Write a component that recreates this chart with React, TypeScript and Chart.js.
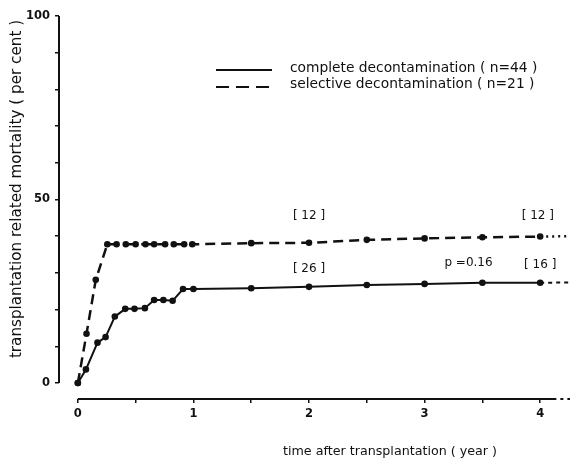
import React, { useEffect, useRef } from "react";
import { Chart, registerables } from "chart.js";

Chart.register(...registerables);

// ---- data (years, per cent) ----
const completeX = [0, 0.07, 0.17, 0.24, 0.32, 0.41, 0.49, 0.58, 0.66, 0.74, 0.82, 0.91, 1.0, 1.5, 2.0, 2.5, 3.0, 3.5, 4.0, 4.27];
const completeY = [0, 3.7, 11.0, 12.5, 18.1, 20.2, 20.2, 20.4, 22.6, 22.6, 22.4, 25.6, 25.6, 25.8, 26.2, 26.7, 27.0, 27.3, 27.3, 27.4];
const selectiveX = [0, 0.075, 0.155, 0.255, 0.335, 0.415, 0.5, 0.585, 0.66, 0.755, 0.83, 0.92, 0.99, 1.5, 2.0, 2.5, 3.0, 3.5, 4.0, 4.27];
const selectiveY = [0, 13.4, 28.1, 37.8, 37.8, 37.8, 37.8, 37.8, 37.8, 37.8, 37.8, 37.8, 37.8, 38.1, 38.2, 39.0, 39.4, 39.7, 39.9, 40.0];

const seriesNames = ["complete decontamination ( n=44 )", "selective decontamination ( n=21 )"];

const yTicks = [0, 10, 20, 30, 40, 50, 60, 70, 80, 90, 100];
const yLabelled = [0, 50, 100];
const xTicks = [0, 0.5, 1, 1.5, 2, 2.5, 3, 3.5, 4];
const xLabelled = [0, 1, 2, 3, 4];

const yTitle = "transplantation related mortality ( per cent )";
const xTitle = "time after transplantation ( year )";

const noteTexts = ["[ 12 ]", "[ 26 ]", "p =0.16", "[ 16 ]", "[ 12 ]"];
const noteX = [2.0, 2.0, 3.38, 4.0, 3.98];
const noteY = [45.5, 31.1, 32.7, 32.2, 45.5];

const INK = "#111111";
const FONT = "'DejaVu Sans', sans-serif";

const decor = {
  id: "decor",
  beforeDatasetsDraw(chart: any) {
    const { ctx, chartArea, scales } = chart;
    const x = scales.x;
    const y = scales.y;
    ctx.save();
    ctx.strokeStyle = INK;
    ctx.lineWidth = 2;
    ctx.lineCap = "butt";
    // y axis line from 0 to 100
    ctx.beginPath();
    ctx.moveTo(chartArea.left, y.getPixelForValue(100));
    ctx.lineTo(chartArea.left, y.getPixelForValue(0));
    ctx.stroke();
    // x axis line
    const yb = chartArea.bottom;
    const xEnd = x.getPixelForValue(4.14);
    ctx.beginPath();
    ctx.moveTo(x.getPixelForValue(0), yb);
    ctx.lineTo(xEnd, yb);
    ctx.stroke();
    ctx.setLineDash([3, 4]);
    ctx.beginPath();
    ctx.moveTo(xEnd + 4, yb);
    ctx.lineTo(chartArea.right, yb);
    ctx.stroke();
    ctx.restore();
  },
  afterDatasetsDraw(chart: any) {
    const { ctx, scales } = chart;
    const x = scales.x;
    const y = scales.y;
    ctx.save();
    ctx.fillStyle = INK;
    ctx.textBaseline = "middle";
    ctx.textAlign = "center";
    // annotations
    ctx.font = `12px ${FONT}`;
    noteTexts.forEach((t, i) => {
      ctx.fillText(t, x.getPixelForValue(noteX[i]), y.getPixelForValue(noteY[i]));
    });
    // legend
    ctx.strokeStyle = INK;
    ctx.lineWidth = 2;
    ctx.beginPath();
    ctx.moveTo(216, 70);
    ctx.lineTo(272, 70);
    ctx.stroke();
    ctx.setLineDash([13, 7]);
    ctx.beginPath();
    ctx.moveTo(216, 87);
    ctx.lineTo(272, 87);
    ctx.stroke();
    ctx.setLineDash([]);
    ctx.textAlign = "left";
    ctx.font = `13.8px ${FONT}`;
    ctx.fillText(seriesNames[0], 290, 68);
    ctx.fillText(seriesNames[1], 290, 84);
    // axis titles
    ctx.textAlign = "center";
    ctx.font = `12.7px ${FONT}`;
    ctx.fillText(xTitle, 390, 452);
    ctx.save();
    ctx.translate(17, 189);
    ctx.rotate(-Math.PI / 2);
    ctx.font = `15.2px ${FONT}`;
    ctx.fillText(yTitle, 0, 0);
    ctx.restore();
    ctx.restore();
  },
};

export default function App() {
  const ref = useRef<HTMLCanvasElement | null>(null);

  useEffect(() => {
    if (!ref.current) return;
    const lastC = completeX.length - 1;
    const lastS = selectiveX.length - 1;
    const chart = new Chart(ref.current, {
      type: "line",
      data: {
        datasets: [
          {
            label: seriesNames[0],
            data: completeX.map((v, i) => ({ x: v, y: completeY[i] })),
            borderColor: INK,
            backgroundColor: INK,
            borderWidth: 2,
            pointRadius: completeX.map((_, i) => (i === lastC ? 0 : 3.3)),
            pointBackgroundColor: INK,
            pointBorderWidth: 0,
            tension: 0,
            segment: {
              borderDash: (c: any) => (c.p1DataIndex === lastC ? [4, 4] : undefined),
            },
          },
          {
            label: seriesNames[1],
            data: selectiveX.map((v, i) => ({ x: v, y: selectiveY[i] })),
            borderColor: INK,
            backgroundColor: INK,
            borderWidth: 2.5,
            borderDash: [10, 6],
            pointRadius: selectiveX.map((_, i) => (i === lastS ? 0 : 3.3)),
            pointBackgroundColor: INK,
            pointBorderWidth: 0,
            tension: 0,
            segment: {
              borderDash: (c: any) => (c.p1DataIndex === lastS ? [2, 4] : undefined),
            },
          },
        ],
      },
      options: {
        responsive: false,
        animation: false,
        devicePixelRatio: 1,
        layout: { padding: { top: 16, right: 0, left: 0, bottom: 0 } },
        plugins: { legend: { display: false }, tooltip: { enabled: false }, title: { display: false } },
        scales: {
          x: {
            type: "linear",
            min: -0.163,
            max: 4.258,
            afterFit: (s: any) => {
              s.height = 63;
            },
            afterBuildTicks: (s: any) => {
              s.ticks = xTicks.map((v) => ({ value: v }));
            },
            border: { display: false },
            grid: { drawOnChartArea: false, drawTicks: true, tickLength: 4, color: INK, lineWidth: 1.5 },
            ticks: {
              autoSkip: false,
              maxRotation: 0,
              padding: 4,
              color: INK,
              font: { family: FONT, size: 11.5, weight: "bold" },
              callback: (v: any) => (xLabelled.includes(Number(v)) ? String(v) : ""),
            },
          },
          y: {
            type: "linear",
            min: -4.36,
            max: 100,
            afterFit: (s: any) => {
              s.width = 59;
            },
            afterBuildTicks: (s: any) => {
              s.ticks = yTicks.map((v) => ({ value: v }));
            },
            border: { display: false },
            grid: { drawOnChartArea: false, drawTicks: true, tickLength: 4, color: INK, lineWidth: 1.5 },
            ticks: {
              autoSkip: false,
              padding: 5,
              color: INK,
              font: { family: FONT, size: 11.5, weight: "bold" },
              callback: (v: any) => (yLabelled.includes(Number(v)) ? String(v) : ""),
            },
          },
        },
      },
      plugins: [decor],
    } as any);
    return () => chart.destroy();
  }, []);

  return (
    <div style={{ position: "fixed", left: 0, top: 0, width: 574, height: 462, background: "#fff" }}>
      <canvas ref={ref} width={574} height={462} style={{ width: 574, height: 462, display: "block" }} />
    </div>
  );
}
